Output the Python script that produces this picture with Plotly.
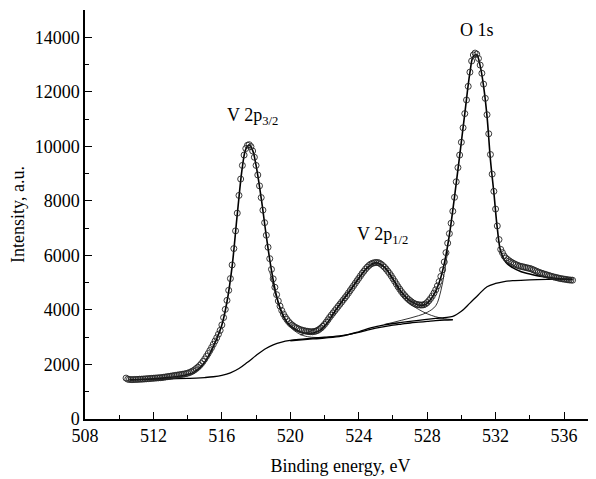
import plotly.graph_objects as go

# ---- measured points (open circles) ----
energy = [
    510.4, 510.5, 510.6, 510.7, 510.8, 510.9, 511.0, 511.1, 511.2, 511.3,
    511.4, 511.5, 511.6, 511.7, 511.8, 511.9, 512.0, 512.1, 512.2, 512.3,
    512.4, 512.5, 512.6, 512.7, 512.8, 512.9, 513.0, 513.1, 513.2, 513.3,
    513.4, 513.5, 513.6, 513.7, 513.8, 513.9, 514.0, 514.1, 514.2, 514.3,
    514.4, 514.5, 514.6, 514.7, 514.8, 514.9, 515.0, 515.1, 515.2, 515.3,
    515.4, 515.5, 515.6, 515.7, 515.8, 515.9, 516.0, 516.1, 516.2, 516.3,
    516.4, 516.5, 516.6, 516.7, 516.8, 516.9, 517.0, 517.1, 517.2, 517.3,
    517.4, 517.5, 517.6, 517.7, 517.8, 517.9, 518.0, 518.1, 518.2, 518.3,
    518.4, 518.5, 518.6, 518.7, 518.8, 518.9, 519.0, 519.1, 519.2, 519.3,
    519.4, 519.5, 519.6, 519.7, 519.8, 519.9, 520.0, 520.1, 520.2, 520.3,
    520.4, 520.5, 520.6, 520.7, 520.8, 520.9, 521.0, 521.1, 521.2, 521.3,
    521.4, 521.5, 521.6, 521.7, 521.8, 521.9, 522.0, 522.1, 522.2, 522.3,
    522.4, 522.5, 522.6, 522.7, 522.8, 522.9, 523.0, 523.1, 523.2, 523.3,
    523.4, 523.5, 523.6, 523.7, 523.8, 523.9, 524.0, 524.1, 524.2, 524.3,
    524.4, 524.5, 524.6, 524.7, 524.8, 524.9, 525.0, 525.1, 525.2, 525.3,
    525.4, 525.5, 525.6, 525.7, 525.8, 525.9, 526.0, 526.1, 526.2, 526.3,
    526.4, 526.5, 526.6, 526.7, 526.8, 526.9, 527.0, 527.1, 527.2, 527.3,
    527.4, 527.5, 527.6, 527.7, 527.8, 527.9, 528.0, 528.1, 528.2, 528.3,
    528.4, 528.5, 528.6, 528.7, 528.8, 528.9, 529.0, 529.1, 529.2, 529.3,
    529.4, 529.5, 529.6, 529.7, 529.8, 529.9, 530.0, 530.1, 530.2, 530.3,
    530.4, 530.5, 530.6, 530.7, 530.8, 530.9, 531.0, 531.1, 531.2, 531.3,
    531.4, 531.5, 531.6, 531.7, 531.8, 531.9, 532.0, 532.1, 532.2, 532.3,
    532.4, 532.5, 532.6, 532.7, 532.8, 532.9, 533.0, 533.1, 533.2, 533.3,
    533.4, 533.5, 533.6, 533.7, 533.8, 533.9, 534.0, 534.1, 534.2, 534.3,
    534.4, 534.5, 534.6, 534.7, 534.8, 534.9, 535.0, 535.1, 535.2, 535.3,
    535.4, 535.5, 535.6, 535.7, 535.8, 535.9, 536.0, 536.1, 536.2, 536.3,
    536.4, 536.5,
]
intensity = [
    1500, 1460, 1450, 1445, 1445, 1450, 1450, 1455, 1460, 1460,
    1465, 1470, 1475, 1480, 1485, 1490, 1495, 1500, 1505, 1510,
    1515, 1520, 1530, 1540, 1550, 1560, 1570, 1580, 1590, 1600,
    1610, 1620, 1630, 1640, 1650, 1665, 1680, 1700, 1730, 1760,
    1800, 1850, 1900, 1960, 2030, 2110, 2200, 2300, 2400, 2510,
    2620, 2740, 2860, 2980, 3110, 3250, 3450, 3720, 4020, 4350,
    4720, 5150, 5650, 6250, 6900, 7550, 8200, 8800, 9300, 9680,
    9920, 10040, 10060, 9990, 9830, 9600, 9300, 8950, 8550, 8120,
    7660, 7200, 6740, 6300, 5880, 5490, 5140, 4830, 4560, 4330,
    4140, 3980, 3850, 3740, 3650, 3570, 3500, 3450, 3400, 3360,
    3330, 3300, 3275, 3255, 3240, 3225, 3215, 3205, 3200, 3200,
    3210, 3225, 3250, 3290, 3340, 3400, 3470, 3550, 3640, 3730,
    3810, 3890, 3970, 4050, 4130, 4210, 4290, 4370, 4450, 4530,
    4620, 4710, 4800, 4890, 4980, 5070, 5160, 5250, 5340, 5420,
    5500, 5570, 5630, 5680, 5710, 5730, 5740, 5740, 5720, 5680,
    5630, 5570, 5500, 5420, 5340, 5250, 5150, 5050, 4950, 4850,
    4760, 4670, 4590, 4520, 4450, 4390, 4340, 4290, 4250, 4220,
    4200, 4190, 4180, 4180, 4190, 4220, 4270, 4340, 4420, 4510,
    4620, 4740, 4880, 5040, 5230, 5470, 5760, 6100, 6450, 6800,
    7180, 7620, 8130, 8700, 9220, 9680, 10150, 10680, 11200, 11700,
    12200, 12720, 13130, 13350, 13420, 13380, 13220, 12980, 12680, 12280,
    11760, 11160, 10460, 9700, 8980, 8350, 7700, 7080, 6580, 6220,
    6100, 5980, 5900, 5850, 5800, 5760, 5720, 5690, 5660, 5630,
    5610, 5595, 5580, 5565, 5550, 5535, 5520, 5500, 5475, 5445,
    5415, 5390, 5365, 5345, 5325, 5305, 5285, 5265, 5245, 5225,
    5210, 5195, 5180, 5165, 5150, 5140, 5130, 5120, 5110, 5100,
    5095, 5090,
]

# ---- fitted envelope ----
fit_energy = [510.6, 511.0, 511.5, 512.0, 512.5, 513.0, 513.5, 514.0, 514.4, 514.8,
              515.2, 515.6, 516.0, 516.3, 516.6, 516.9, 517.2, 517.4, 517.6, 517.8,
              518.0, 518.3, 518.6, 518.9, 519.2, 519.5, 519.8, 520.2, 520.6, 521.0,
              521.4, 521.8, 522.2, 522.6, 523.0, 523.5, 524.0, 524.5, 525.0, 525.5,
              526.0, 526.5, 527.0, 527.5, 527.9, 528.3, 528.7, 529.0, 529.3, 529.6,
              529.9, 530.2, 530.5, 530.7, 530.9, 531.1, 531.3, 531.5, 531.7, 531.9,
              532.1, 532.3, 532.6, 533.0, 533.5, 534.0, 534.5, 535.0, 535.5, 536.0,
              536.5]
fit_intensity = [1430, 1440, 1455, 1475, 1500, 1530, 1570, 1630, 1730, 1930,
                 2280, 2800, 3450, 4300, 5600, 7500, 9250, 9900, 10050, 9850,
                 9300, 8100, 6700, 5450, 4500, 3900, 3550, 3320, 3190, 3140,
                 3160, 3280, 3560, 3940, 4300, 4720, 5160, 5550, 5730, 5570,
                 5140, 4660, 4330, 4180, 4200, 4470, 5000, 5700, 6750, 8150,
                 9650, 11200, 12700, 13300, 13350, 12950, 12200, 11100, 9500, 8300,
                 7000, 6150, 5750, 5550, 5400, 5320, 5250, 5200, 5160, 5130,
                 5110]

# ---- backgrounds ----
bg_v_energy = [510.6, 511.0, 512.0, 513.0, 514.0, 514.5, 515.0, 515.5, 516.0, 516.5,
               517.0, 517.5, 518.0, 518.5, 519.0, 519.5, 520.0, 520.5, 521.0, 522.0,
               523.0, 524.0, 524.5, 525.0, 525.5, 526.0, 526.5, 527.0, 527.5, 528.0,
               528.5, 529.0, 529.5]
bg_v_intensity = [1440, 1445, 1460, 1475, 1490, 1500, 1520, 1550, 1600, 1690,
                  1850, 2080, 2330, 2560, 2720, 2820, 2880, 2920, 2950, 3000,
                  3060, 3180, 3260, 3330, 3390, 3440, 3480, 3520, 3550, 3580,
                  3610, 3630, 3640]

bg_o_energy = [520.0, 521.0, 522.0, 523.0, 524.0, 524.7, 525.5, 526.5, 527.5, 528.5,
               529.0, 529.5, 530.0, 530.5, 531.0, 531.5, 532.0, 532.5, 533.0, 534.0,
               535.0, 536.0, 536.5]
bg_o_intensity = [2870, 2920, 2970, 3040, 3200, 3340, 3450, 3540, 3620, 3690,
                  3720, 3760, 3950, 4250, 4560, 4850, 4970, 5040, 5075, 5100,
                  5120, 5130, 5130]

# ---- components ----
v32_energy = [518.8, 519.2, 519.6, 520.0, 520.5, 521.0, 521.5, 522.0, 522.5]
v32_intensity = [5400, 4450, 3800, 3380, 3130, 3020, 2990, 2990, 3010]

v12_energy = [520.6, 521.0, 521.5, 522.0, 522.5, 523.0, 523.5, 524.0, 524.5, 525.0,
              525.5, 526.0, 526.5, 527.0, 527.5, 528.0, 528.5, 529.0, 529.5]
v12_intensity = [3080, 3170, 3320, 3560, 3880, 4260, 4690, 5130, 5530, 5720,
                 5560, 5100, 4560, 4230, 4020, 3860, 3750, 3680, 3645]

o1s_energy = [525.5, 526.0, 526.5, 527.0, 527.5, 528.0, 528.5, 528.8, 529.0, 529.2]
o1s_intensity = [3470, 3540, 3620, 3700, 3790, 3910, 4150, 4700, 5350, 6150]

x_ticks = [508, 512, 516, 520, 524, 528, 532, 536]
y_ticks = [0, 2000, 4000, 6000, 8000, 10000, 12000, 14000]
y_ticklabels = ["0", "2000", "4000", "6000", "8000", "10000", "12000", "14000"]

labels = [
    ("V 2p<sub>3/2</sub>", 517.8, 11100),
    ("V 2p<sub>1/2</sub>", 525.4, 6720),
    ("O 1s", 530.9, 14280),
]

SERIF = "Liberation Serif, Times New Roman, Times, serif"
FS = 18

fig = go.Figure()

for ex, ey, w in [(bg_v_energy, bg_v_intensity, 1.3), (bg_o_energy, bg_o_intensity, 1.3),
                  (v32_energy, v32_intensity, 0.8), (v12_energy, v12_intensity, 0.8),
                  (o1s_energy, o1s_intensity, 0.8)]:
    fig.add_trace(go.Scatter(x=ex, y=ey, mode="lines", line=dict(color="black", width=w, shape="spline"),
                             hoverinfo="skip"))

fig.add_trace(go.Scatter(x=fit_energy, y=fit_intensity, mode="lines",
                         line=dict(color="black", width=1.6, shape="spline")))

fig.add_trace(go.Scatter(x=energy, y=intensity, mode="markers",
                         marker=dict(symbol="circle-open", size=6, color="#222222",
                                     line=dict(width=0.9, color="#222222"))))

for text, xx, yy in labels:
    fig.add_annotation(x=xx, y=yy, text=text, showarrow=False,
                       font=dict(family=SERIF, size=FS, color="black"))

axis_common = dict(showline=True, linecolor="black", linewidth=1.5, ticks="inside",
                   ticklen=7, tickwidth=1.3, tickcolor="black", showgrid=False,
                   zeroline=False, mirror=False, automargin=False,
                   tickfont=dict(family=SERIF, size=FS, color="black"))

fig.update_xaxes(range=[508, 537.87], tickvals=x_ticks,
                 minor=dict(ticks="inside", ticklen=4, tickwidth=1.2, tickcolor="black",
                            tickvals=[510, 514, 518, 522, 526, 530, 534]),
                 title=dict(text="Binding energy, eV", standoff=14,
                            font=dict(family=SERIF, size=FS, color="black")),
                 **axis_common)
fig.update_yaxes(range=[0, 15000], tickvals=y_ticks, ticktext=y_ticklabels,
                 minor=dict(ticks="inside", ticklen=4, tickwidth=1.2, tickcolor="black",
                            tickvals=[1000, 3000, 5000, 7000, 9000, 11000, 13000, 15000]),
                 title=dict(text="Intensity, a.u.", standoff=6,
                            font=dict(family=SERIF, size=FS, color="black")),
                 **axis_common)

# the page adds an 8 px body margin, so the figure is sized/offset to compensate
fig.update_layout(width=588, height=471, margin=dict(l=77, r=0, t=2, b=60),
                  plot_bgcolor="white", paper_bgcolor="white", showlegend=False,
                  font=dict(family=SERIF, size=FS, color="black"))

fig.write_html("out.html")
